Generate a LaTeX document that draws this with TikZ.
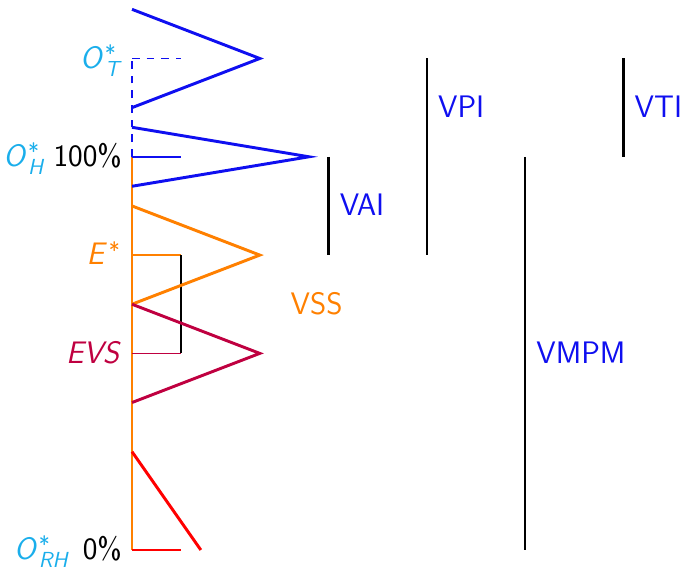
\documentclass[tikz,border=0pt]{standalone}
\usepackage{fontspec}
\definecolor{labcyan}{RGB}{26,174,235}
\definecolor{tblue}{RGB}{15,15,240}
\definecolor{torange}{RGB}{255,128,0}
\definecolor{tpurple}{RGB}{191,0,64}
\definecolor{tred}{RGB}{255,0,0}
% italic symbol with a starred superscript and a small subscript
\newcommand{\starsym}[2]{\textit{#1}\kern0.04em\rlap{\raisebox{0.22em}{\fontsize{13}{13}\selectfont *}}\raisebox{-0.26em}{\fontsize{12.6}{13}\selectfont\textit{#2}}}
% italic symbol with a starred superscript only
\newcommand{\staronly}[1]{\textit{#1}\kern0.06em\raisebox{0.22em}{\fontsize{13}{13}\selectfont *}}
\tikzset{
  tri/.style={line width=1.7pt, line join=miter},
  tickline/.style={line width=0.9pt},
  axisline/.style={line width=1.2pt},
  rangebar/.style={line width=1.3pt, black},
  lab/.style={font=\fontsize{18}{22}\selectfont\sffamily, inner sep=0pt},
  dashline/.style={dash pattern=on 4.5pt off 4pt}
}
\begin{document}
\begin{tikzpicture}[x=1cm,y=1cm]
\useasboundingbox (-2.686,-0.326) rectangle (11.19,11.19);

% axis points
\coordinate (a0) at (0,0);
\coordinate (a8) at (0,8);
\coordinate (a10) at (0,10);

% vertical axis: solid up to 100%, dashed above
\draw[torange, axisline] (a0) -- (a8);
\draw[tblue, line width=1.2pt, dashline] (a8) -- (a10);

% level ticks
\draw[tblue, tickline, dashline] (a10) -- (1,10);
\draw[tblue, tickline] (a8) -- (1,8);
\draw[torange, tickline] (0,6) coordinate (e) -- (1,6) coordinate (e1);
\draw[tpurple, tickline] (0,4) coordinate (v) -- (1,4) coordinate (v1);
\draw[tred, tickline] (a0) -- (1,0);
\draw[black, line width=1pt] (e1) -- (v1);

% triangles
\draw[tblue, tri] (0,11) -- (2.6,10) -- (0,9);
\draw[tblue, tri] (0,8.6) -- (3.6,8) -- (0,7.4);
\draw[torange, tri] (0,7) -- (2.6,6) -- (0,5);
\draw[tpurple, tri] (0,5) -- (2.6,4) -- (0,3);
\draw[tred, tri] (0,2) -- (1.4,0);

% left labels
\node[lab, anchor=base east, text=labcyan] (ot) at (-0.2,9.8) {\starsym{O}{T}};
\node[lab, anchor=base east] (oh) at (-0.2,7.8) {{\color{labcyan}\starsym{O}{H}}\hspace{0.3em}100\%};
\node[lab, anchor=base east, text=torange] (es) at (-0.24,5.8) {\staronly{E}};
\node[lab, anchor=base east, text=tpurple] (evs) at (-0.22,3.8) {\textit{EVS}};
\node[lab, anchor=base east] (orh) at (-0.2,-0.2) {{\color{labcyan}\starsym{O}{RH}}\hspace{0.45em}0\%};

% range bars
\draw[rangebar] (4,8) coordinate (vai1) -- (4,6) coordinate (vai2);
\draw[rangebar] (6,10) coordinate (vpi1) -- (6,6) coordinate (vpi2);
\draw[rangebar] (8,8) coordinate (vm1) -- (8,0) coordinate (vm2);
\draw[rangebar] (10,10) coordinate (vti1) -- (10,8) coordinate (vti2);

\node[lab, anchor=base west, text=tblue] (vai) at (4.22,6.8) {VAI};
\node[lab, anchor=base west, text=tblue] (vpi) at (6.22,8.8) {VPI};
\node[lab, anchor=base west, text=tblue] (vmpm) at (8.22,3.8) {VMPM};
\node[lab, anchor=base west, text=tblue] (vti) at (10.22,8.8) {VTI};
\node[lab, anchor=base west, text=torange] (vss) at (3.22,4.8) {VSS};
\end{tikzpicture}
\end{document}
